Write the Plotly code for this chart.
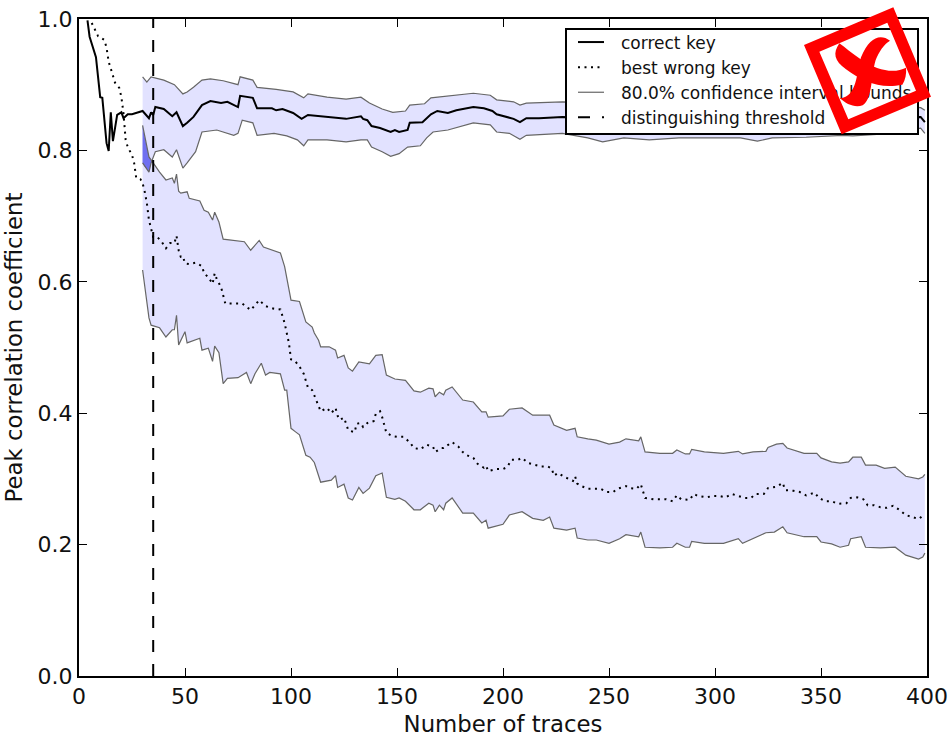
import plotly.graph_objects as go

threshold_x = 35

correct_x = [4,5,8,10,11,13,14,15,16,18,20,21,23,25,30,33,34,35,36,40,44,46,49,51,54,58,62,67,70,75,76,82,84,91,93,96,101,105,108,114,117,126,133,134,136,138,142,147,149,151,155,156,162,166,169,174,178,182,186,191,195,197,201,205,208,211,217,228,250,300,350,380,397,399]
correct_y = [.998,.973,.942,.881,.880,.811,.799,.858,.814,.854,.858,.849,.855,.855,.860,.849,.858,.854,.866,.863,.852,.858,.837,.842,.851,.869,.875,.872,.874,.866,.883,.880,.864,.864,.861,.863,.857,.848,.854,.852,.851,.848,.852,.848,.846,.837,.834,.828,.831,.828,.831,.842,.843,.855,.860,.857,.861,.864,.866,.864,.860,.855,.851,.848,.843,.849,.849,.851,.848,.845,.840,.850,.851,.843]

correct_upper_x = [30,32,34,40,45,49,51,54,58,62,68,75,76,82,84,93,101,106,108,117,126,133,137,143,148,154,156,163,166,174,186,194,197,205,208,211,228,250,300,350,380,397,399]
correct_upper_y = [.912,.904,.912,.907,.900,.886,.889,.896,.907,.909,.906,.900,.912,.907,.896,.893,.889,.880,.886,.881,.878,.881,.872,.863,.858,.860,.869,.871,.880,.883,.887,.884,.877,.874,.869,.872,.874,.872,.868,.865,.868,.865,.861]

correct_lower_x = [30,33,34,36,40,44,46,49,51,55,58,65,73,75,77,82,84,92,98,103,106,108,117,126,133,136,138,143,147,151,155,161,164,167,174,186,194,197,203,208,211,228,240,247,257,269,283,296,312,320,327,343,360,365,380,397,399]
correct_lower_y = [.781,.767,.781,.798,.801,.790,.801,.773,.781,.798,.828,.831,.823,.826,.846,.842,.823,.826,.822,.816,.807,.816,.816,.813,.816,.816,.805,.798,.791,.795,.805,.807,.819,.828,.831,.842,.839,.828,.826,.817,.823,.826,.819,.813,.819,.816,.819,.819,.819,.814,.819,.820,.823,.822,.825,.834,.826]

wrong_x = [6,9,12,13,14,15,16,17,19,20,21,22,23,25,26,27,29,30,31,32,33,34,35,37,39,41,43,45,46,47,48,49,50,52,55,58,59,61,63,64,65,67,68,69,71,77,81,85,88,92,95,97,99,100,102,104,106,107,108,110,111,112,113,114,117,119,121,122,123,125,126,127,130,131,133,134,136,139,140,142,143,144,145,148,150,153,156,158,161,164,167,168,171,172,175,176,179,181,183,186,188,191,192,193,197,200,202,204,207,209,212,215,218,221,223,224,226,229,233,234,235,237,240,242,246,249,252,254,258,260,263,265,266,267,271,274,277,280,282,284,288,290,292,296,299,302,305,308,311,314,317,319,323,325,329,332,333,337,340,343,347,349,352,355,358,362,364,367,370,372,375,378,381,384,387,390,393,396,399]
wrong_y = [.994,.974,.968,.956,.935,.924,.912,.903,.895,.881,.856,.816,.805,.793,.781,.758,.756,.750,.737,.720,.694,.683,.668,.668,.661,.651,.659,.659,.670,.648,.638,.639,.628,.627,.629,.624,.613,.607,.597,.613,.604,.592,.580,.567,.567,.567,.557,.572,.563,.559,.558,.537,.507,.482,.479,.471,.460,.448,.439,.435,.427,.419,.412,.403,.408,.400,.408,.396,.390,.393,.384,.374,.371,.384,.385,.379,.385,.388,.399,.403,.394,.382,.370,.365,.364,.364,.356,.347,.345,.352,.349,.341,.347,.347,.353,.356,.349,.341,.336,.332,.323,.317,.320,.312,.315,.315,.318,.329,.329,.332,.324,.321,.319,.319,.316,.305,.309,.303,.297,.304,.293,.289,.285,.285,.285,.280,.280,.285,.289,.286,.285,.292,.280,.271,.269,.269,.269,.266,.275,.269,.268,.277,.274,.272,.274,.274,.272,.277,.274,.271,.271,.277,.277,.286,.288,.294,.283,.282,.280,.275,.279,.271,.266,.266,.262,.263,.271,.272,.269,.260,.260,.257,.256,.259,.253,.245,.242,.239,.246]

wrong_upper_x = [30,31,33,35,38,41,44,45,46,47,48,51,52,57,59,61,63,64,66,68,71,78,81,85,87,95,97,100,104,107,110,111,113,114,118,121,122,125,127,129,132,137,140,143,145,149,154,158,161,165,167,168,170,172,173,176,181,186,190,192,193,200,203,209,214,219,222,224,230,234,235,240,244,250,255,258,264,265,267,274,280,282,286,288,289,295,304,311,313,318,324,325,329,332,334,342,348,350,355,359,363,365,369,371,376,380,385,390,396,398,399]
wrong_upper_y = [.838,.820,.790,.781,.767,.755,.758,.750,.764,.738,.735,.737,.727,.723,.709,.706,.694,.706,.691,.665,.664,.661,.648,.663,.653,.644,.623,.572,.570,.539,.531,.522,.511,.501,.501,.496,.484,.488,.469,.464,.478,.475,.488,.489,.458,.452,.450,.434,.432,.438,.437,.425,.432,.428,.435,.440,.420,.417,.402,.402,.394,.396,.406,.408,.397,.397,.397,.382,.374,.377,.364,.361,.359,.353,.356,.361,.358,.364,.341,.339,.339,.344,.338,.338,.345,.341,.339,.342,.338,.341,.342,.348,.353,.354,.347,.339,.339,.332,.326,.324,.326,.333,.333,.321,.321,.316,.318,.304,.300,.303,.307]

wrong_lower_x = [30,32,33,34,38,41,44,45,46,47,50,51,57,58,61,63,64,66,68,70,75,79,81,83,86,88,90,95,97,98,100,102,104,107,109,111,114,119,121,122,125,127,129,132,134,137,140,143,145,149,151,154,158,161,165,167,168,170,172,173,176,181,186,190,192,193,200,203,209,214,219,222,224,230,234,235,240,244,250,255,258,264,265,267,274,280,282,286,288,289,295,304,311,313,318,324,328,332,334,342,348,350,355,359,363,364,369,371,378,385,390,396,398,399]
wrong_lower_y = [.618,.572,.545,.534,.530,.516,.527,.527,.549,.504,.524,.507,.514,.496,.499,.479,.502,.492,.445,.453,.454,.462,.445,.460,.476,.458,.462,.460,.435,.435,.377,.372,.367,.336,.333,.325,.295,.298,.305,.287,.292,.271,.268,.287,.278,.286,.305,.309,.272,.269,.271,.266,.253,.253,.263,.260,.250,.260,.253,.263,.271,.248,.248,.233,.237,.225,.231,.245,.250,.240,.237,.242,.225,.222,.225,.210,.207,.207,.202,.209,.215,.212,.219,.196,.195,.196,.202,.196,.196,.205,.202,.202,.209,.202,.209,.218,.219,.227,.218,.212,.212,.204,.201,.196,.199,.209,.212,.196,.195,.196,.184,.178,.181,.187]

overlap_x = [30,31,33,34,35]
overlap_top = [.838,.820,.790,.785,.781]
overlap_bottom = [.781,.775,.767,.781,.781]

tick_x = [0,50,100,150,200,250,300,350,400]
tick_y = [0.0,0.2,0.4,0.6,0.8,1.0]
label_correct = "correct key"
label_wrong = "best wrong key"
label_bounds = "80.0% confidence interval bounds"
label_threshold = "distinguishing threshold"

W, H = 949, 737
L, R, T, B = 79, 927, 19, 676
FONT = "DejaVu Sans"
BAND = "rgba(0,0,255,0.115)"
EDGE = "#666666"

fig = go.Figure()


def band(xu, yu, xl, yl, color=BAND):
    fig.add_trace(go.Scatter(x=xu + xl[::-1], y=yu + yl[::-1], fill="toself", fillcolor=color,
                             mode="none", showlegend=False, hoverinfo="skip"))


band(correct_upper_x, correct_upper_y, correct_lower_x, correct_lower_y)
band(wrong_upper_x, wrong_upper_y, wrong_lower_x, wrong_lower_y)
band(overlap_x, overlap_top, overlap_x, overlap_bottom, "#7070f0")

fig.add_trace(go.Scatter(x=correct_x, y=correct_y, mode="lines", name=label_correct,
                         line=dict(color="black", width=2)))
fig.add_trace(go.Scatter(x=wrong_x, y=wrong_y, mode="lines", name=label_wrong,
                         line=dict(color="black", width=2, dash="2px,4.5px")))
fig.add_trace(go.Scatter(x=correct_upper_x, y=correct_upper_y, mode="lines", name=label_bounds,
                         line=dict(color=EDGE, width=1.2)))
for xs, ys in [(correct_lower_x, correct_lower_y), (wrong_upper_x, wrong_upper_y), (wrong_lower_x, wrong_lower_y)]:
    fig.add_trace(go.Scatter(x=xs, y=ys, mode="lines", showlegend=False,
                             line=dict(color=EDGE, width=1.2)))
fig.add_trace(go.Scatter(x=[threshold_x, threshold_x], y=[0, 1], mode="lines", name=label_threshold,
                         line=dict(color="black", width=2, dash="12px,12px")))


# red stamp drawn over the legend; coordinates are page pixels mapped to paper space
def p(px, py):
    return f"{(px - L) / (R - L):.5f},{1 - (py - T) / (B - T):.5f}"


def z(a, b):
    return p(780 + a / 3, b / 3)


square = ("M" + z(340, 22) + " L" + z(72, 135) + " L" + z(185, 403) + " L" + z(453, 290) + " Z "
          "M" + z(322, 68) + " L" + z(118, 155) + " L" + z(205, 358) + " L" + z(408, 272) + " Z")
stroke_a = ("M" + z(178, 130) + " C" + z(158, 160) + " " + z(162, 182) + " " + z(198, 208) +
            " C" + z(248, 245) + " " + z(300, 268) + " " + z(367, 254) +
            " C" + z(376, 240) + " " + z(380, 220) + " " + z(378, 203) +
            " C" + z(345, 220) + " " + z(295, 215) + " " + z(240, 176) +
            " C" + z(215, 160) + " " + z(195, 142) + " " + z(178, 130) + " Z")
stroke_b = ("M" + z(330, 122) + " C" + z(300, 100) + " " + z(268, 112) + " " + z(243, 172) +
            " C" + z(230, 215) + " " + z(232, 292) + " " + z(180, 295) +
            " C" + z(198, 312) + " " + z(225, 325) + " " + z(248, 316) +
            " C" + z(278, 298) + " " + z(272, 230) + " " + z(287, 180) +
            " C" + z(297, 155) + " " + z(312, 132) + " " + z(330, 122) + " Z")
shapes = [dict(type="path", xref="paper", yref="paper", path=d, fillcolor="#ff0000",
               fillrule="evenodd", line=dict(width=0), layer="above")
          for d in (square, stroke_a, stroke_b)]

axis = dict(showgrid=False, zeroline=False, ticks="inside", ticklen=8, tickwidth=1, tickcolor="black",
            showline=True, linewidth=2, linecolor="black", mirror="ticks", automargin=False,
            tickfont=dict(family=FONT, size=22, color="#111"))

fig.update_layout(
    template="none",
    width=W, height=H, autosize=False,
    margin=dict(l=L, r=W - R, t=T, b=H - B, pad=0),
    paper_bgcolor="white", plot_bgcolor="white",
    font=dict(family=FONT, color="#111"),
    xaxis=dict(axis, range=[0, 400], tickvals=tick_x, ticktext=[str(v) for v in tick_x],
               title=dict(text="Number of traces", font=dict(family=FONT, size=22.8))),
    yaxis=dict(axis, range=[0, 1], tickvals=tick_y, ticktext=[f"{v:.1f}" for v in tick_y],
               title=dict(text="Peak correlation coefficient", font=dict(family=FONT, size=22.8))),
    legend=dict(x=(565 - L) / (R - L), y=1 - (28 - T) / (B - T), xanchor="left", yanchor="top",
                bgcolor="white", bordercolor="black", borderwidth=2,
                font=dict(family=FONT, size=17), itemwidth=44,
                entrywidth=308, entrywidthmode="pixels"),
    shapes=shapes,
)

post = """
document.body.style.margin = '0';
var gd = document.getElementById('{plot_id}');
var top = gd._fullLayout._toppaper.node();
top.appendChild(gd._fullLayout._shapeUpperLayer.node());
gd.querySelectorAll('.legendlines path').forEach(function (el) { el.setAttribute('d', 'M11,0h26'); });
gd.querySelectorAll('.legend .traces').forEach(function (el) {
  var m = /translate\\(([-\\d.]+),\\s*([-\\d.]+)\\)/.exec(el.getAttribute('transform'));
  if (m) { el.setAttribute('transform', 'translate(' + m[1] + ',' + (parseFloat(m[2]) - 5.5) + ')'); }
});
var bg = gd.querySelector('.legend .bg');
bg.setAttribute('height', parseFloat(bg.getAttribute('height')) - 8);
"""
fig.write_html("out.html", post_script=post, config={"displayModeBar": False})
